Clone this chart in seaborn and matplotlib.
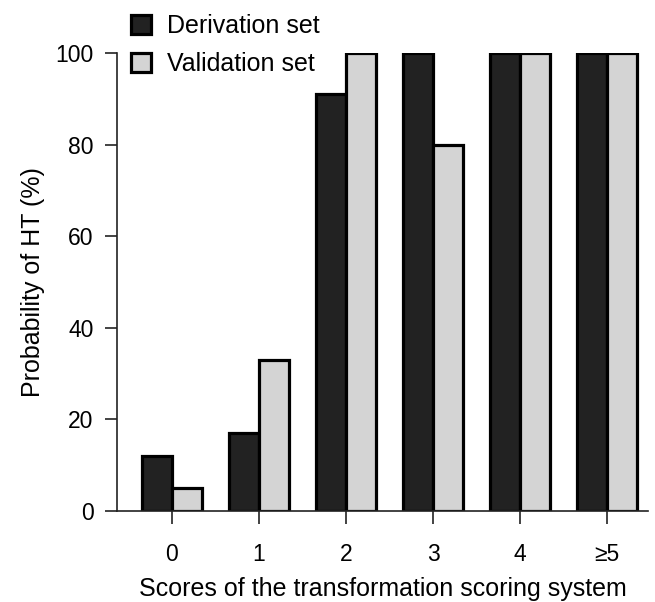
import matplotlib
matplotlib.use("Agg")
import matplotlib.pyplot as plt
import seaborn as sns
import pandas as pd
from matplotlib.patches import Patch

categories = ["0", "1", "2", "3", "4", "≥5"]
derivation = [12, 17, 91, 100, 100, 100]
validation = [5, 33, 100, 80, 100, 100]
series_names = ["Derivation set", "Validation set"]
yticks = [0, 20, 40, 60, 80, 100]

sns.set_theme(style="ticks")
plt.rcParams['font.family'] = ['Liberation Sans', 'DejaVu Sans']
plt.rcParams['text.color'] = 'black'
plt.rcParams['axes.labelcolor'] = 'black'
plt.rcParams['xtick.color'] = 'black'
plt.rcParams['ytick.color'] = 'black'

df = pd.DataFrame({
    "score": categories * 2,
    "prob": derivation + validation,
    "set": [series_names[0]] * len(categories) + [series_names[1]] * len(categories),
})

colors = {"Derivation set": "#222222", "Validation set": "#d4d4d4"}

fig = plt.figure(figsize=(6.55, 6.02), dpi=100)
ax = fig.add_axes([117/655, 1 - 511/602, (648-117)/655, (511-53)/602])

sns.barplot(data=df, x="score", y="prob", hue="set", order=categories,
            hue_order=series_names, palette=colors, width=0.69, gap=0,
            edgecolor="black", linewidth=2.3, saturation=1, ax=ax, legend=False)

ax.set_xlim(-0.63, 5.47)
ax.set_ylim(0, 100)
ax.set_yticks(yticks)
ax.set_yticklabels([str(t) for t in yticks])
for s in ["top", "right"]:
    ax.spines[s].set_visible(False)
for s in ["left", "bottom"]:
    ax.spines[s].set_linewidth(1.2)
    ax.spines[s].set_color("#222222")
ax.tick_params(axis="both", length=9, width=1.2, color="#222222", labelsize=16.5, pad=8)
ax.tick_params(axis="x", pad=14)
ax.set_xlabel("Scores of the transformation scoring system", fontsize=18, labelpad=8)
ax.set_ylabel("Probability of HT (%)", fontsize=18, labelpad=7)

handles = [Patch(facecolor=colors[n], edgecolor="black", linewidth=2.3) for n in series_names]
ax.legend(handles, series_names, loc="upper left", bbox_to_anchor=(131/655, 1 - 14/602),
          bbox_transform=fig.transFigure, frameon=False, fontsize=18,
          borderpad=0, borderaxespad=0,
          handlelength=0.8, handleheight=0.8, handletextpad=0.65, labelspacing=0.55)

fig.savefig("out.png", dpi=100)
